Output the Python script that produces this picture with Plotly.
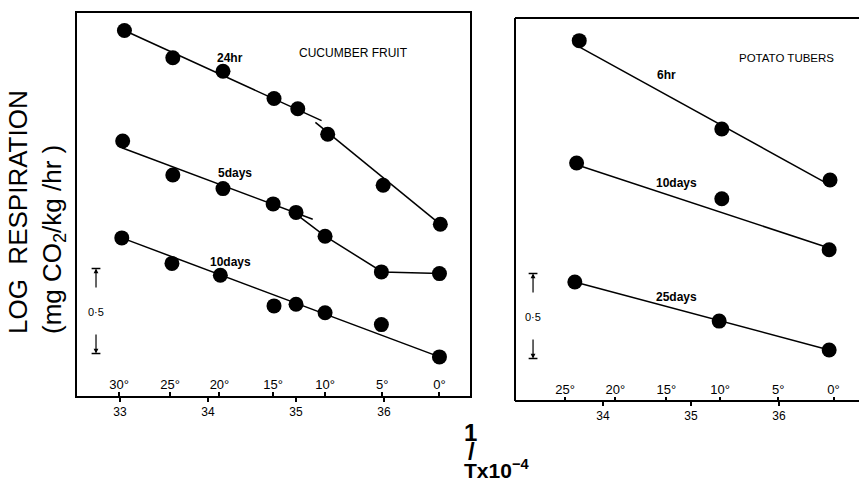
import plotly.graph_objects as go

# ---------------- data (x = 1/T x 10^4, y = log respiration) ----------------
# Cucumber fruit
cuc_24h_x = [33.05, 33.60, 34.17, 34.75, 35.02, 35.36, 35.99, 36.64]
cuc_24h_y = [2.75, 2.59, 2.51, 2.35, 2.29, 2.14, 1.84, 1.61]
cuc_5d_x = [33.03, 33.60, 34.17, 34.74, 35.00, 35.33, 35.97, 36.63]
cuc_5d_y = [2.10, 1.90, 1.82, 1.73, 1.68, 1.54, 1.33, 1.32]
cuc_10d_x = [33.02, 33.59, 34.14, 34.75, 35.00, 35.33, 35.97, 36.63]
cuc_10d_y = [1.53, 1.38, 1.31, 1.13, 1.14, 1.09, 1.02, 0.83]

# fitted lines (cucumber)
cuc_24h_fit1_x = [33.05, 35.29]
cuc_24h_fit1_y = [2.75, 2.22]
cuc_24h_fit2_x = [35.22, 36.64]
cuc_24h_fit2_y = [2.21, 1.61]
cuc_5d_fit1_x = [33.02, 35.19]
cuc_5d_fit1_y = [2.06, 1.64]
cuc_5d_fit2_x = [35.00, 35.33, 35.98, 36.64]
cuc_5d_fit2_y = [1.67, 1.54, 1.33, 1.32]
cuc_10d_fit_x = [33.02, 36.63]
cuc_10d_fit_y = [1.53, 0.83]

# Potato tubers
pot_6h_x = [33.73, 35.35, 36.58]
pot_6h_y = [2.72, 2.20, 1.90]
pot_10d_x = [33.70, 35.35, 36.57]
pot_10d_y = [2.00, 1.79, 1.49]
pot_25d_x = [33.68, 35.32, 36.57]
pot_25d_y = [1.30, 1.07, 0.90]

pot_6h_fit_x = [33.74, 36.58]
pot_6h_fit_y = [2.68, 1.87]
pot_10d_fit_x = [33.70, 36.57]
pot_10d_fit_y = [1.99, 1.50]
pot_25d_fit_x = [33.68, 36.57]
pot_25d_fit_y = [1.30, 0.90]

# ticks
inv_ticks_cuc = [33, 34, 35, 36]
inv_ticks_pot = [34, 35, 36]
cuc_temp_pos = [32.99, 33.57, 34.13, 34.74, 35.33, 35.98, 36.63]
cuc_temp_lab = ["30°", "25°", "20°", "15°", "10°", "5°", "0°"]
pot_temp_pos = [33.57, 34.14, 34.72, 35.33, 35.99, 36.62]
pot_temp_lab = ["25°", "20°", "15°", "10°", "5°", "0°"]

SCALE = 0.5          # scale bar length in log units
BAR_TOP = 1.35

# ---------------- figure ----------------
FONT = "Liberation Sans, Arial, sans-serif"
W, H = 859, 483
fig = go.Figure()

def dots(x, y, xa, ya):
    fig.add_trace(go.Scatter(x=x, y=y, mode="markers", xaxis=xa, yaxis=ya,
                             marker=dict(size=15, color="black"),
                             hoverinfo="skip", cliponaxis=False))

def line(x, y, xa, ya):
    fig.add_trace(go.Scatter(x=x, y=y, mode="lines", xaxis=xa, yaxis=ya,
                             line=dict(color="black", width=1.5),
                             hoverinfo="skip"))

for fx, fy in [(cuc_24h_fit1_x, cuc_24h_fit1_y), (cuc_24h_fit2_x, cuc_24h_fit2_y),
               (cuc_5d_fit1_x, cuc_5d_fit1_y), (cuc_5d_fit2_x, cuc_5d_fit2_y),
               (cuc_10d_fit_x, cuc_10d_fit_y)]:
    line(fx, fy, "x", "y")
for px, py in [(cuc_24h_x, cuc_24h_y), (cuc_5d_x, cuc_5d_y), (cuc_10d_x, cuc_10d_y)]:
    dots(px, py, "x", "y")

for fx, fy in [(pot_6h_fit_x, pot_6h_fit_y), (pot_10d_fit_x, pot_10d_fit_y),
               (pot_25d_fit_x, pot_25d_fit_y)]:
    line(fx, fy, "x2", "y2")
for px, py in [(pot_6h_x, pot_6h_y), (pot_10d_x, pot_10d_y), (pot_25d_x, pot_25d_y)]:
    dots(px, py, "x2", "y2")

# empty traces so the temperature axes exist
fig.add_trace(go.Scatter(x=[], y=[], xaxis="x3", yaxis="y", showlegend=False))
fig.add_trace(go.Scatter(x=[], y=[], xaxis="x4", yaxis="y2", showlegend=False))

X1_RANGE = [32.511, 36.977]
Y_RANGE = [0.6, 2.853]

LEFT_DOM_X = [77 / W, 470 / W]
LEFT_DOM_Y = [0.1801, 0.9731]
RIGHT_DOM_X = [515 / W, 1.0]
RIGHT_DOM_Y = [0.1698, 0.9627]
# potato axis: 34 sits at 603 px, 88 px per unit
X2_RANGE = [34 - 88 / 88, 34 + (RIGHT_DOM_X[1] * W - 603) / 88]

frame = dict(showline=True, linecolor="black", linewidth=2, showgrid=False,
             zeroline=False)
noline = dict(showline=False, showgrid=False, zeroline=False)
TICKFONT = dict(size=12, color="black", family=FONT)
TEMPFONT = dict(size=13, color="black", family=FONT)

fig.update_layout(
    width=W, height=H,
    margin=dict(l=0, r=0, t=0, b=0),
    paper_bgcolor="white", plot_bgcolor="white",
    showlegend=False,
    font=dict(family=FONT, color="black"),
    xaxis=dict(domain=LEFT_DOM_X, range=X1_RANGE, anchor="y", mirror=True,
               ticks="outside", ticklen=4, tickwidth=1.5, tickcolor="black",
               tickvals=inv_ticks_cuc, tickfont=TICKFONT, **frame),
    yaxis=dict(domain=LEFT_DOM_Y, range=Y_RANGE, anchor="x", mirror=True,
               showticklabels=False, ticks="", **frame),
    xaxis3=dict(overlaying="x", anchor="y", side="bottom", range=X1_RANGE,
                tickvals=cuc_temp_pos, ticktext=cuc_temp_lab, ticks="inside",
                ticklen=4, tickwidth=1.5, tickcolor="black",
                ticklabelposition="inside", tickfont=TEMPFONT, **noline),
    xaxis2=dict(domain=RIGHT_DOM_X, range=X2_RANGE, anchor="y2",
                ticks="outside", ticklen=4, tickwidth=1.5, tickcolor="black",
                tickvals=inv_ticks_pot, tickfont=TICKFONT, **noline),
    yaxis2=dict(domain=RIGHT_DOM_Y, range=Y_RANGE, anchor="x2",
                showticklabels=False, ticks="", **noline),
    xaxis4=dict(overlaying="x2", anchor="y2", side="bottom", range=X2_RANGE,
                tickvals=pot_temp_pos, ticktext=pot_temp_lab, ticks="inside",
                ticklen=4, tickwidth=1.5, tickcolor="black",
                ticklabelposition="inside", tickfont=TEMPFONT, **noline),
)

ann = []
def label(text, x, y, xr, yr, size=12, bold=True):
    ann.append(dict(text=f"<b>{text}</b>" if bold else text, x=x, y=y,
                    xref=xr, yref=yr, showarrow=False,
                    xanchor="center", yanchor="middle",
                    font=dict(size=size, family=FONT, color="black")))

label("CUCUMBER FRUIT", 35.65, 2.62, "x", "y", size=12, bold=False)
label("24hr", 34.25, 2.59, "x", "y")
label("5days", 34.31, 1.91, "x", "y")
label("10days", 34.26, 1.39, "x", "y")
label("POTATO TUBERS", 36.09, 2.62, "x2", "y2", size=11.5, bold=False)
label("6hr", 34.72, 2.52, "x2", "y2")
label("10days", 34.84, 1.88, "x2", "y2")
label("25days", 34.83, 1.21, "x2", "y2")

shapes = []
# open frame of the potato panel (left, bottom and top sides; right side is cut off)
fl = dict(color="black", width=2)
shapes.append(dict(type="line", xref="paper", yref="paper", x0=RIGHT_DOM_X[0],
                   x1=RIGHT_DOM_X[0], y0=RIGHT_DOM_Y[0], y1=RIGHT_DOM_Y[1], line=fl))
shapes.append(dict(type="line", xref="paper", yref="paper", x0=RIGHT_DOM_X[0],
                   x1=1.05, y0=RIGHT_DOM_Y[0], y1=RIGHT_DOM_Y[0], line=fl))
shapes.append(dict(type="line", xref="paper", yref="paper", x0=RIGHT_DOM_X[0],
                   x1=1.05, y0=RIGHT_DOM_Y[1], y1=RIGHT_DOM_Y[1], line=fl))

for xr, yr, bx in [("x", "y", 32.727), ("x2", "y2", 33.205)]:
    for yv in (BAR_TOP, BAR_TOP - SCALE):
        shapes.append(dict(type="line", xref=xr, yref=yr, x0=bx - 0.05, x1=bx + 0.05,
                           y0=yv, y1=yv, line=dict(color="black", width=1.5)))
    ann.append(dict(text="", x=bx, y=BAR_TOP, ax=bx, ay=BAR_TOP - 0.12,
                    xref=xr, yref=yr, axref=xr, ayref=yr, showarrow=True,
                    arrowhead=2, arrowsize=0.8, arrowwidth=1.2, arrowcolor="black"))
    ann.append(dict(text="", x=bx, y=BAR_TOP - SCALE, ax=bx, ay=BAR_TOP - SCALE + 0.12,
                    xref=xr, yref=yr, axref=xr, ayref=yr, showarrow=True,
                    arrowhead=2, arrowsize=0.8, arrowwidth=1.2, arrowcolor="black"))
    label("0·5", bx, BAR_TOP - SCALE / 2 - 0.005, xr, yr, size=11, bold=False)

# y-axis title
ann.append(dict(text="LOG  RESPIRATION<br>(mg CO<sub>2</sub>/kg /hr )", x=36 / W,
                y=(H - 212) / H, xref="paper", yref="paper", showarrow=False,
                xanchor="center", yanchor="middle",
                textangle=-90, align="left",
                font=dict(size=26, family=FONT, color="black")))
# x-axis title
ann.append(dict(text="<b>1</b>", x=470 / W, y=(H - 432) / H, xref="paper",
                yref="paper", xanchor="center", yanchor="middle", showarrow=False,
                font=dict(size=24, family=FONT, color="black")))
ann.append(dict(text="<b>/</b>", x=471 / W, y=(H - 451) / H, xref="paper",
                yref="paper", xanchor="center", yanchor="middle", showarrow=False,
                font=dict(size=24, family=FONT, color="black")))
ann.append(dict(text="<b>Tx10<sup>−4</sup></b>", x=462 / W, y=(H - 469) / H,
                xref="paper", yref="paper", xanchor="left", yanchor="middle",
                showarrow=False, font=dict(size=21, family=FONT, color="black")))

fig.update_layout(annotations=ann, shapes=shapes)
fig.write_html("out.html", config={"displayModeBar": False},
               post_script="document.body.style.margin='0px';"
                           "document.body.style.overflow='hidden';")
